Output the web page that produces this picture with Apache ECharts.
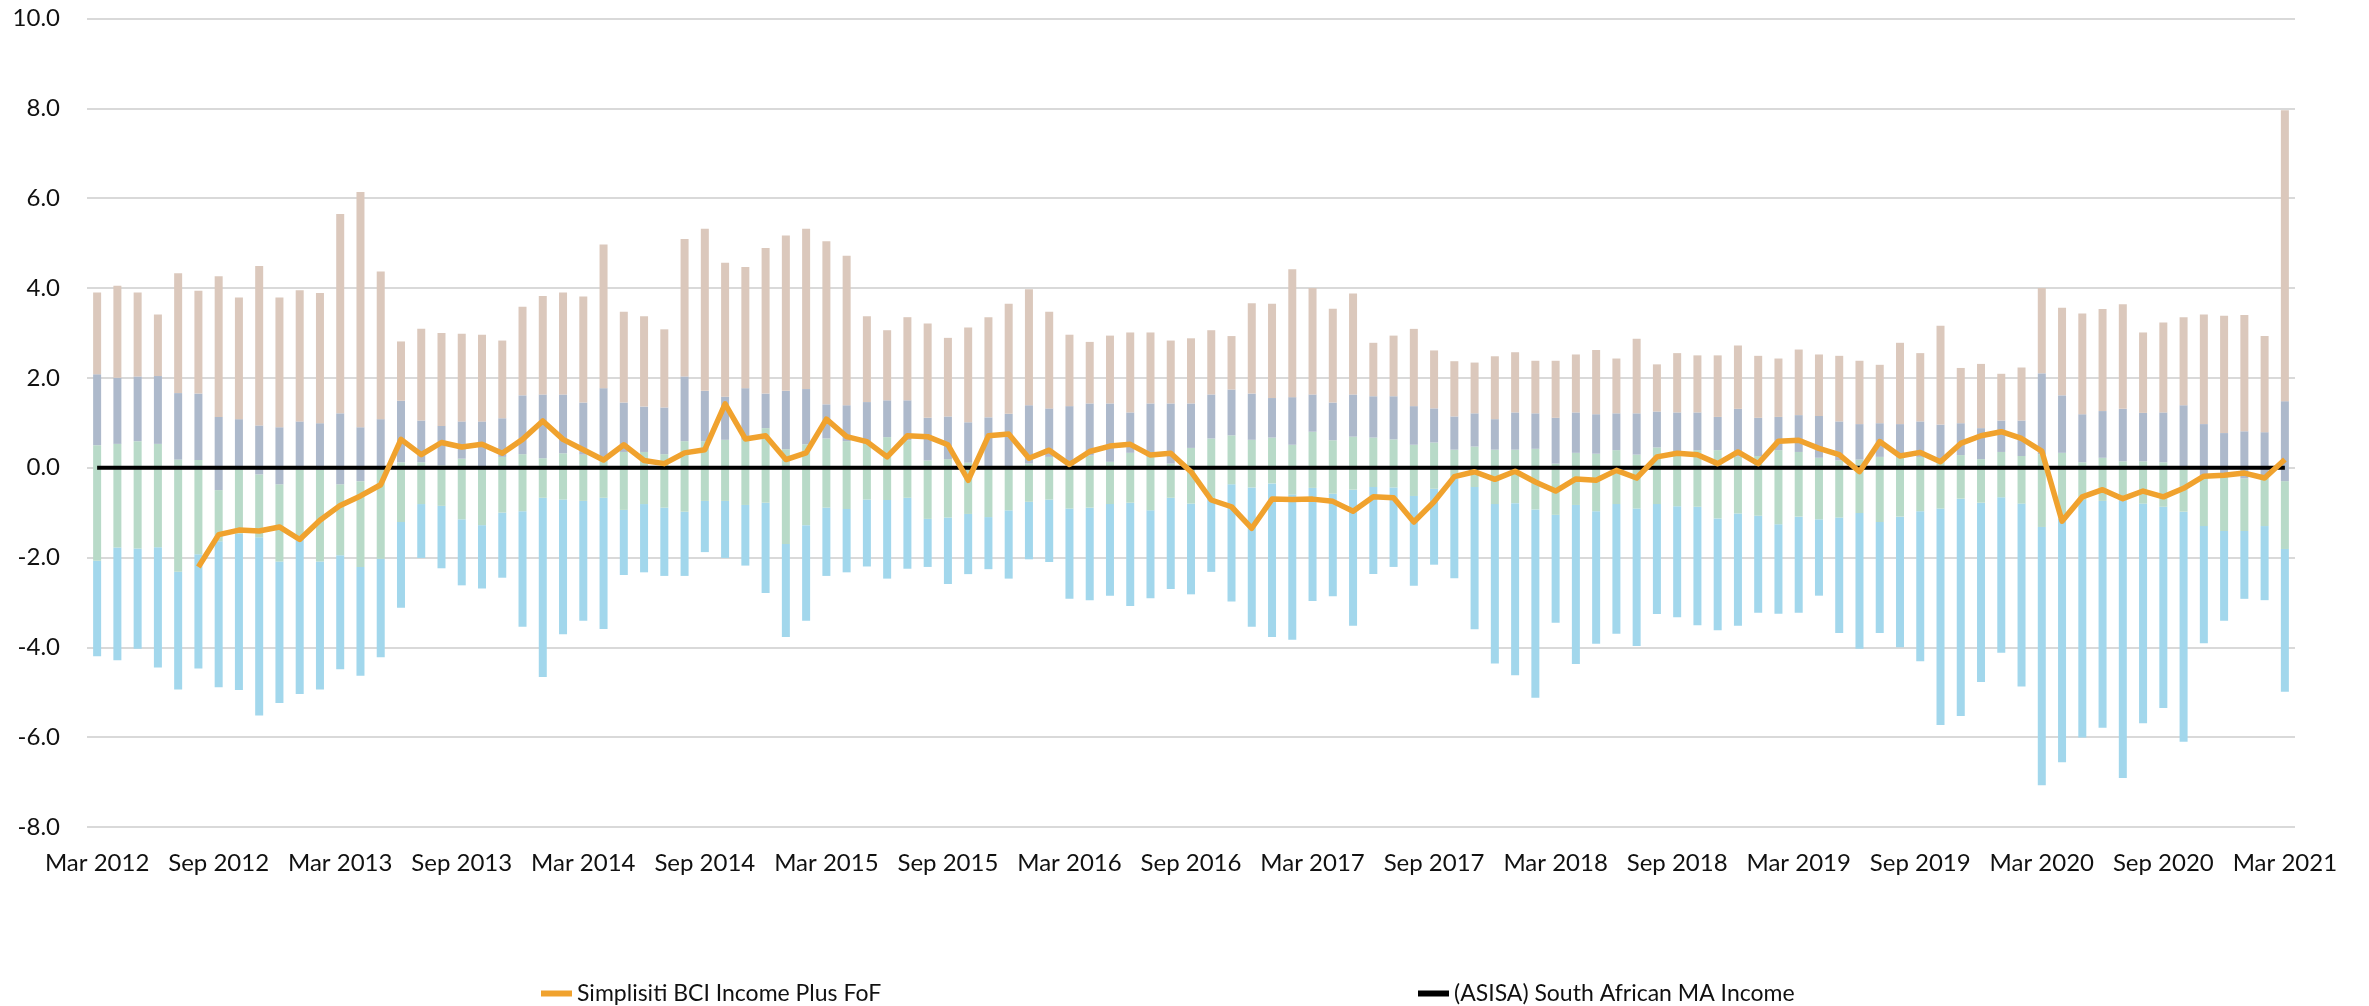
<!DOCTYPE html>
<html>
<head>
<meta charset="utf-8">
<title>Simplisiti BCI Income Plus FoF - rolling ranking</title>
<script src="https://cdn.jsdelivr.net/npm/echarts@6/dist/echarts.min.js"></script>
<style>
html, body { margin: 0; padding: 0; background: #fff; }
#chart { width: 2369px; height: 1006px; }
</style>
</head>
<body>
<div id="chart"></div>
<script>
// 月份标签：Mar 2012 ~ Mar 2021，共109个月
var monthNames = ["Jan", "Feb", "Mar", "Apr", "May", "Jun", "Jul", "Aug", "Sep", "Oct", "Nov", "Dec"];
var firstYear = 2012;
var firstMonth = 2; // Mar
var monthCount = 109;

var yTicks = [-8, -6, -4, -2, 0, 2, 4, 6, 8, 10];

// 分位数边界（相对同类平均，%）
var p95 = [3.90, 4.05, 3.90, 3.41, 4.33, 3.94, 4.26, 3.79, 4.49, 3.79, 3.95, 3.89,
    5.65, 6.14, 4.37, 2.81, 3.09, 3.00, 2.98, 2.96, 2.83, 3.58, 3.82, 3.90,
    3.81, 4.97, 3.47, 3.37, 3.08, 5.09, 5.32, 4.56, 4.47, 4.89, 5.17, 5.32,
    5.04, 4.72, 3.37, 3.06, 3.35, 3.21, 2.89, 3.12, 3.35, 3.65, 3.97, 3.47,
    2.96, 2.80, 2.94, 3.01, 3.01, 2.83, 2.88, 3.06, 2.93, 3.66, 3.65, 4.42,
    4.00, 3.54, 3.88, 2.78, 2.94, 3.09, 2.61, 2.37, 2.34, 2.48, 2.57, 2.38,
    2.38, 2.52, 2.62, 2.43, 2.87, 2.30, 2.55, 2.50, 2.50, 2.72, 2.49, 2.43,
    2.63, 2.52, 2.49, 2.38, 2.29, 2.78, 2.55, 3.16, 2.22, 2.31, 2.09, 2.23,
    4.00, 3.56, 3.43, 3.53, 3.64, 3.01, 3.23, 3.35, 3.41, 3.38, 3.40, 2.93, 7.96];
var p75 = [2.08, 2.00, 2.03, 2.04, 1.66, 1.65, 1.13, 1.08, 0.94, 0.90, 1.03, 0.99,
    1.21, 0.90, 1.08, 1.49, 1.05, 0.93, 1.03, 1.03, 1.10, 1.61, 1.63, 1.63,
    1.45, 1.77, 1.45, 1.36, 1.34, 2.03, 1.71, 1.58, 1.77, 1.65, 1.71, 1.75,
    1.41, 1.39, 1.46, 1.50, 1.50, 1.11, 1.14, 1.01, 1.12, 1.20, 1.39, 1.32,
    1.37, 1.43, 1.43, 1.23, 1.43, 1.43, 1.43, 1.63, 1.74, 1.65, 1.55, 1.57,
    1.63, 1.45, 1.63, 1.59, 1.59, 1.37, 1.32, 1.14, 1.21, 1.08, 1.23, 1.21,
    1.11, 1.23, 1.19, 1.21, 1.21, 1.25, 1.23, 1.23, 1.13, 1.31, 1.11, 1.13,
    1.17, 1.15, 1.03, 0.97, 0.99, 0.97, 1.03, 0.96, 0.99, 0.88, 1.05, 1.05,
    2.10, 1.61, 1.19, 1.26, 1.31, 1.22, 1.23, 1.39, 0.97, 0.77, 0.81, 0.79, 1.48];
var p50 = [0.50, 0.53, 0.59, 0.53, 0.18, 0.17, -0.50, -0.02, -0.15, -0.37, -0.04, -0.05,
    -0.37, -0.30, -0.02, 0.12, 0.12, 0.05, 0.20, 0.02, 0.24, 0.30, 0.21, 0.32,
    0.29, 0.24, 0.35, 0.35, 0.30, 0.59, 0.59, 0.62, 0.62, 0.88, 0.41, 0.52,
    0.65, 0.59, 0.53, 0.68, 0.61, 0.16, 0.19, 0.11, 0.01, 0.01, 0.09, 0.24,
    0.00, 0.27, 0.13, 0.33, 0.24, 0.09, 0.44, 0.65, 0.72, 0.62, 0.67, 0.51,
    0.80, 0.61, 0.69, 0.67, 0.63, 0.51, 0.56, 0.40, 0.47, 0.40, 0.40, 0.42,
    0.09, 0.33, 0.31, 0.39, 0.29, 0.45, 0.36, 0.39, 0.39, 0.25, 0.26, 0.39,
    0.35, 0.22, 0.16, 0.18, 0.24, 0.22, 0.24, 0.11, 0.28, 0.19, 0.35, 0.26,
    0.30, 0.33, 0.12, 0.22, 0.14, 0.14, 0.12, -0.02, -0.20, -0.17, -0.24, -0.20, -0.30];
var p25 = [-2.07, -1.78, -1.80, -1.77, -2.32, -1.93, -1.64, -1.47, -1.55, -2.09, -1.61, -2.09,
    -1.95, -2.21, -2.03, -1.21, -0.81, -0.85, -1.15, -1.28, -1.00, -0.97, -0.67, -0.71,
    -0.74, -0.67, -0.94, -0.81, -0.89, -0.98, -0.74, -0.74, -0.83, -0.78, -1.70, -1.28,
    -0.89, -0.92, -0.71, -0.72, -0.67, -1.14, -1.11, -1.03, -1.10, -0.95, -0.76, -0.71,
    -0.91, -0.89, -0.81, -0.78, -0.95, -0.67, -0.80, -0.72, -0.37, -0.44, -0.35, -0.60,
    -0.45, -0.58, -0.49, -0.43, -0.44, -0.63, -0.47, -0.24, -0.43, -0.81, -0.79, -0.93,
    -1.05, -0.83, -0.97, -0.81, -0.91, -0.81, -0.86, -0.87, -1.13, -1.02, -1.07, -1.26,
    -1.09, -1.15, -1.11, -1.01, -1.21, -1.09, -0.97, -0.91, -0.69, -0.78, -0.66, -0.80,
    -1.32, -1.13, -0.72, -0.74, -0.74, -0.80, -0.87, -0.98, -1.30, -1.41, -1.41, -1.30, -1.81];
var p5 = [-4.20, -4.29, -4.03, -4.45, -4.94, -4.47, -4.89, -4.95, -5.52, -5.24, -5.04, -4.94,
    -4.49, -4.63, -4.22, -3.12, -2.01, -2.24, -2.62, -2.69, -2.45, -3.54, -4.66, -3.71,
    -3.41, -3.59, -2.39, -2.33, -2.41, -2.41, -1.88, -2.01, -2.18, -2.79, -3.77, -3.41,
    -2.41, -2.33, -2.20, -2.47, -2.25, -2.21, -2.59, -2.37, -2.26, -2.47, -2.04, -2.10,
    -2.92, -2.95, -2.85, -3.08, -2.91, -2.70, -2.82, -2.32, -2.98, -3.54, -3.77, -3.83,
    -2.97, -2.86, -3.52, -2.37, -2.21, -2.63, -2.16, -2.46, -3.60, -4.36, -4.62, -5.12,
    -3.45, -4.37, -3.92, -3.70, -3.97, -3.26, -3.33, -3.51, -3.62, -3.52, -3.23, -3.25,
    -3.23, -2.85, -3.68, -4.03, -3.68, -4.00, -4.31, -5.73, -5.53, -4.77, -4.12, -4.87,
    -7.07, -6.56, -6.01, -5.79, -6.91, -5.69, -5.35, -6.10, -3.91, -3.41, -2.92, -2.95, -4.99];

// 基金相对同类的表现（2012年8月起）
var fund = [null, null, null, null, null, -2.21, -1.49, -1.39, -1.41, -1.32, -1.60, -1.17,
    -0.84, -0.63, -0.38, 0.63, 0.29, 0.56, 0.46, 0.52, 0.32, 0.63, 1.04, 0.63,
    0.40, 0.17, 0.51, 0.16, 0.09, 0.33, 0.40, 1.42, 0.64, 0.71, 0.18, 0.33,
    1.08, 0.69, 0.58, 0.24, 0.71, 0.69, 0.51, -0.28, 0.71, 0.75, 0.21, 0.39,
    0.07, 0.36, 0.48, 0.52, 0.28, 0.32, -0.09, -0.72, -0.87, -1.35, -0.70, -0.71,
    -0.70, -0.75, -0.97, -0.65, -0.67, -1.21, -0.76, -0.20, -0.09, -0.26, -0.08, -0.32,
    -0.52, -0.25, -0.28, -0.06, -0.23, 0.24, 0.32, 0.29, 0.09, 0.35, 0.09, 0.59,
    0.61, 0.43, 0.29, -0.09, 0.58, 0.26, 0.34, 0.13, 0.54, 0.71, 0.80, 0.65,
    0.37, -1.19, -0.65, -0.49, -0.69, -0.52, -0.65, -0.46, -0.19, -0.17, -0.12, -0.23, 0.18];

// 同类平均（自身作为基准，恒为0）
var sector = [0, 0, 0, 0, 0, 0, 0, 0, 0, 0, 0, 0,
    0, 0, 0, 0, 0, 0, 0, 0, 0, 0, 0, 0,
    0, 0, 0, 0, 0, 0, 0, 0, 0, 0, 0, 0,
    0, 0, 0, 0, 0, 0, 0, 0, 0, 0, 0, 0,
    0, 0, 0, 0, 0, 0, 0, 0, 0, 0, 0, 0,
    0, 0, 0, 0, 0, 0, 0, 0, 0, 0, 0, 0,
    0, 0, 0, 0, 0, 0, 0, 0, 0, 0, 0, 0,
    0, 0, 0, 0, 0, 0, 0, 0, 0, 0, 0, 0,
    0, 0, 0, 0, 0, 0, 0, 0, 0, 0, 0, 0, 0];

var fundName = "Simplisiti BCI Income Plus FoF";
var sectorName = "(ASISA) South African MA Income";

var textFont = "Lato, 'Open Sans', sans-serif";
var textColor = "#111";

// 生成月份标签
function buildCategories(){
    var list = [];
    for(var i = 0; i < monthCount; i++){
        var m = firstMonth + i;
        list.push(monthNames[m % 12] + " " + (firstYear + Math.floor(m / 12)));
    }
    return list;
}

// 相邻分位数之差，用于堆叠出悬浮柱段
function diff(upper, lower){
    return upper.map(function(v, i){ return +(v - lower[i]).toFixed(2); });
}

function bandSeries(name, data, color){
    return {
        name: name,
        type: "bar",
        stack: "range",
        stackStrategy: "all",
        barWidth: 8,
        data: data,
        itemStyle: { color: color },
        silent: true
    };
}

var categories = buildCategories();

var chart = echarts.init(document.getElementById("chart"), null, { renderer: "canvas" });

var legendText = { fontFamily: textFont, fontSize: 23, color: textColor };

var option = {
    animation: false,
    backgroundColor: "#fff",
    grid: { left: 87, right: 74, top: 18.5, bottom: 179, containLabel: false },
    legend: [{
        data: [fundName],
        left: 536,
        top: 977,
        icon: "rect",
        itemWidth: 31,
        itemHeight: 6,
        textStyle: legendText
    }, {
        data: [sectorName],
        left: 1413,
        top: 977,
        icon: "rect",
        itemWidth: 31,
        itemHeight: 6,
        textStyle: legendText
    }],
    xAxis: {
        type: "category",
        data: categories,
        boundaryGap: true,
        axisLine: { show: false },
        axisTick: { show: false },
        axisLabel: {
            interval: 5,
            margin: 24,
            fontFamily: textFont,
            fontSize: 24,
            color: textColor
        },
        splitLine: { show: false }
    },
    yAxis: {
        type: "value",
        min: yTicks[0],
        max: yTicks[yTicks.length - 1],
        interval: 2,
        axisLine: { show: false },
        axisTick: { show: false },
        axisLabel: {
            margin: 27,
            fontFamily: textFont,
            fontSize: 24,
            color: textColor,
            formatter: function(v){ return v.toFixed(1); }
        },
        splitLine: { lineStyle: { color: "#d9d9d9", width: 2 } }
    },
    series: [
        bandSeries("base", p5, "rgba(0,0,0,0)"),
        bandSeries("5th-25th", diff(p25, p5), "#a2d7ec"),
        bandSeries("25th-50th", diff(p50, p25), "#b8dac8"),
        bandSeries("50th-75th", diff(p75, p50), "#adb9cb"),
        bandSeries("75th-95th", diff(p95, p75), "#dbc8bc"),
        {
            name: sectorName,
            type: "line",
            data: sector,
            showSymbol: false,
            lineStyle: { color: "#000", width: 4 },
            itemStyle: { color: "#000" },
            z: 3
        },
        {
            name: fundName,
            type: "line",
            data: fund,
            showSymbol: false,
            connectNulls: false,
            lineStyle: { color: "#f0a22e", width: 5.5, join: "round" },
            itemStyle: { color: "#f0a22e" },
            z: 4
        }
    ]
};

chart.setOption(option);
</script>
</body>
</html>
